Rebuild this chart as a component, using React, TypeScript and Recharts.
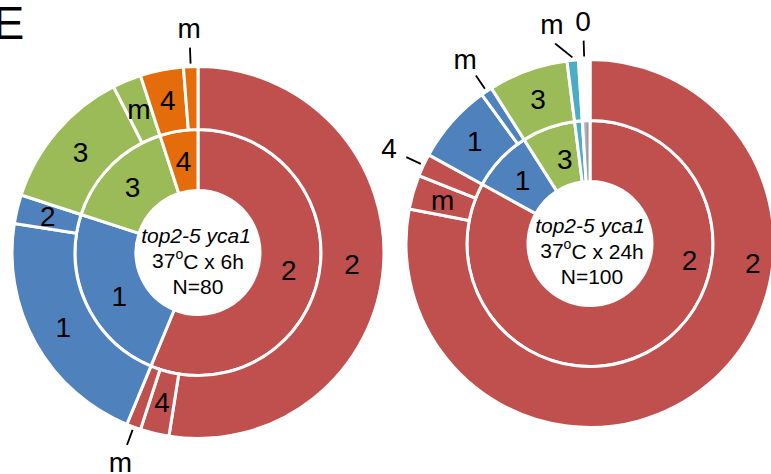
import React from 'react';
import { PieChart, Pie, Cell } from 'recharts';

const RED = '#C0504D';
const BLUE = '#4F81BD';
const GREEN = '#9BBB59';
const ORANGE = '#E46C0A';
const CYAN = '#4BACC6';
const GRAY = 'url(#zeroGray)';
const BLANK = '#FFFFFF';

// 37ºC x 6h, N=80: inner ring by class, outer ring split into subclasses
const inner6hClasses = ['2', '1', '3', '4'];
const inner6hCounts = [45, 19, 12, 4];
const outer6hClasses = ['2', '4', 'm', '1', '2', '3', 'm', '4', 'm'];
const outer6hCounts = [42, 2, 1, 17, 2, 10, 2, 3, 1];

// 37ºC x 24h, N=100
const inner24hClasses = ['2', '1', '3', 'm', '0'];
const inner24hCounts = [83, 8, 7, 1, 1];
const outer24hClasses = ['2', 'm', '4', '1', 'm', '3', 'm', '0'];
const outer24hCounts = [78, 3, 2, 7, 1, 7, 1, 1];

const FONT = '"Liberation Sans", Arial, Helvetica, sans-serif';
const RAD = Math.PI / 180;

type Mode = 'in' | 'out' | 'none';

interface Ring {
  names: string[];
  values: number[];
  fills: string[];
  modes: Mode[];
  cx: number;
  cy: number;
  inner: number;
  outer: number;
  // hand-placed labels (angle in recharts degrees)
  anchor?: Record<number, { angle: number; r: number }>;
  // callout lines that bend away from a crowded neighbour
  bend?: Record<number, number>;
}

const toRows = (names: string[], values: number[]) =>
  names.map((name, i) => ({ name, value: values[i] }));

const polar = (cx: number, cy: number, r: number, a: number) => [
  cx + r * Math.cos(-a * RAD),
  cy + r * Math.sin(-a * RAD),
];

const makeLabel = (ring: Ring) => (props: any) => {
  const { cx, cy, midAngle, innerRadius, outerRadius, index } = props;
  const mode = ring.modes[index];
  const name = ring.names[index];
  if (mode === 'none') return null;

  if (mode === 'in') {
    const fix = ring.anchor?.[index];
    const a = fix ? fix.angle : midAngle;
    const r = fix ? fix.r : (innerRadius + outerRadius) / 2;
    const [x, y] = polar(cx, cy, r, a);
    return (
      <text
        key={`l-${index}`}
        x={x}
        y={y}
        textAnchor="middle"
        dominantBaseline="central"
        fontFamily={FONT}
        fontSize={28}
        fill="#000"
      >
        {name}
      </text>
    );
  }

  const a2 = midAngle + (ring.bend?.[index] ?? 0);
  const [x1, y1] = polar(cx, cy, outerRadius + 3, midAngle);
  const [x2, y2] = polar(cx, cy, outerRadius + 19, a2);
  const [lx, ly] = polar(cx, cy, outerRadius + 38, a2);
  return (
    <g key={`l-${index}`}>
      <line x1={x1} y1={y1} x2={x2} y2={y2} stroke="#000" strokeWidth={1.8} />
      <text
        x={lx}
        y={ly}
        textAnchor="middle"
        dominantBaseline="central"
        fontFamily={FONT}
        fontSize={28}
        fill="#000"
      >
        {name}
      </text>
    </g>
  );
};

const rings: Ring[] = [
  {
    names: inner6hClasses,
    values: inner6hCounts,
    fills: [RED, BLUE, GREEN, ORANGE],
    modes: ['in', 'in', 'in', 'in'],
    cx: 198,
    cy: 252.5,
    inner: 62,
    outer: 123,
    anchor: { 1: { angle: -151, r: 90 } },
  },
  {
    names: outer6hClasses,
    values: outer6hCounts,
    fills: [RED, RED, RED, BLUE, BLUE, GREEN, GREEN, ORANGE, ORANGE],
    modes: ['in', 'in', 'out', 'in', 'in', 'in', 'in', 'in', 'out'],
    cx: 198,
    cy: 252.5,
    inner: 123,
    outer: 186,
  },
  {
    names: inner24hClasses,
    values: inner24hCounts,
    fills: [RED, BLUE, GREEN, CYAN, GRAY],
    modes: ['in', 'in', 'in', 'none', 'none'],
    cx: 590,
    cy: 243.5,
    inner: 62,
    outer: 123,
    anchor: { 0: { angle: -9.6, r: 101 }, 2: { angle: -253.3, r: 88 } },
  },
  {
    names: outer24hClasses,
    values: outer24hCounts,
    fills: [RED, RED, RED, BLUE, BLUE, GREEN, CYAN, BLANK],
    modes: ['in', 'in', 'out', 'in', 'out', 'in', 'out', 'out'],
    cx: 590,
    cy: 243.5,
    inner: 123,
    outer: 184,
    anchor: { 0: { angle: -7, r: 164 } },
    bend: { 6: 4.5 },
  },
];

const CenterNote = ({ x, y, hours, n }: { x: number; y: number; hours: string; n: number }) => (
  <g fontFamily={FONT} fontSize={21} fill="#000" textAnchor="middle">
    <text x={x - 2} y={y} fontStyle="italic" dominantBaseline="central">
      top2-5 yca1
    </text>
    <text x={x} y={y + 25.5} dominantBaseline="central">
      37
      <tspan fontSize={14} dy={-7}>
        o
      </tspan>
      <tspan dy={7}>C x {hours}</tspan>
    </text>
    <text x={x} y={y + 51} dominantBaseline="central">
      N={n}
    </text>
  </g>
);

export default function App() {
  return (
    <div style={{ position: 'absolute', left: 0, top: 0, width: 771, height: 474, background: '#fff' }}>
      <svg width={0} height={0} style={{ position: 'absolute' }}>
        <defs>
          <linearGradient id="zeroGray" x1="0" y1="0" x2="1" y2="0">
            <stop offset="0%" stopColor="#d9d9d9" />
            <stop offset="100%" stopColor="#7f7f7f" />
          </linearGradient>
        </defs>
      </svg>
      <PieChart width={771} height={474} margin={{ top: 0, right: 0, bottom: 0, left: 0 }}>
        {rings.map((ring, k) => (
          <Pie
            key={k}
            data={toRows(ring.names, ring.values)}
            dataKey="value"
            nameKey="name"
            cx={ring.cx}
            cy={ring.cy}
            innerRadius={ring.inner}
            outerRadius={ring.outer}
            startAngle={90}
            endAngle={-270}
            stroke="#fff"
            strokeWidth={3}
            labelLine={false}
            label={makeLabel(ring)}
            isAnimationActive={false}
          >
            {ring.values.map((_, i) => (
              <Cell key={i} fill={ring.fills[i]} />
            ))}
          </Pie>
        ))}
      </PieChart>
      <svg
        width={771}
        height={474}
        style={{ position: 'absolute', left: 0, top: 0, pointerEvents: 'none' }}
      >
        <text x={-7} y={39} fontFamily={FONT} fontSize={47} fill="#000">
          E
        </text>
        <CenterNote x={198} y={235} hours="6h" n={80} />
        <CenterNote x={592} y={225} hours="24h" n={100} />
      </svg>
    </div>
  );
}
